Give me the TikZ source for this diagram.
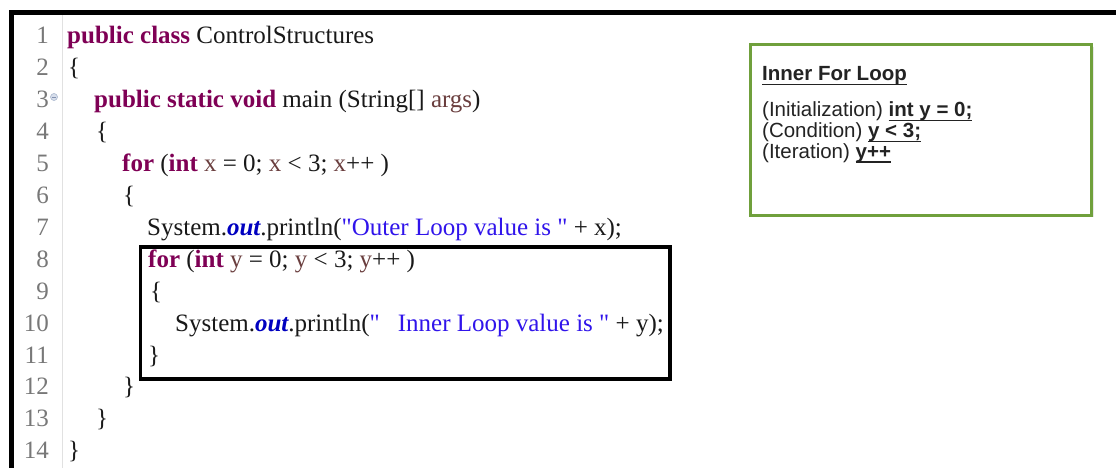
\documentclass[tikz,border=0pt]{standalone}
\usepackage{fontspec}
\setmainfont{Liberation Serif}
\newfontfamily\notefont{Liberation Sans}
\usetikzlibrary{shadows}

% editor syntax colours
\definecolor{kwcol}{RGB}{127,0,85}
\definecolor{fldcol}{RGB}{0,0,192}
\definecolor{strcol}{RGB}{48,20,235}
\definecolor{varcol}{RGB}{106,62,62}
\definecolor{lnumcol}{RGB}{120,120,120}
\definecolor{codecol}{RGB}{25,25,25}
\definecolor{notetext}{RGB}{35,35,35}
\definecolor{notegreen}{RGB}{112,160,60}
\definecolor{gutterline}{RGB}{225,225,225}
\definecolor{folddraw}{RGB}{160,175,200}
\definecolor{foldfill}{RGB}{215,222,235}
\definecolor{foldbar}{RGB}{130,145,175}

\newcommand\kwd[1]{\textbf{\textcolor{kwcol}{#1}}}
\newcommand\fld[1]{\textbf{\textit{\textcolor{fldcol}{#1}}}}
\newcommand\strlit[1]{\textcolor{strcol}{#1}}
\newcommand\varname[1]{\textcolor{varcol}{#1}}
% straight double quote, taken as a glyph so no quote mapping applies
\newcommand\dq{\XeTeXglyph\XeTeXglyphindex "quotedbl"\relax}
% underline drawn at a fixed depth below the baseline
\newcommand\ulbox[2][1.4pt]{\setbox0\hbox{#2}\rlap{\rule[-4.5pt]{\wd0}{#1}}\box0}

\tikzset{
  code/.style={anchor=base west, inner sep=0pt, text=codecol,
    font=\fontsize{25}{30}\selectfont},
  lnum/.style={anchor=base east, inner sep=0pt, text=lnumcol,
    font=\fontsize{25}{30}\selectfont},
  note/.style={anchor=base west, inner sep=0pt, text=notetext,
    font=\notefont\fontsize{20.5}{21}\selectfont},
  frame/.style={draw=black, line width=4.5pt},
  loopbox/.style={draw=black, line width=3.8pt, inner sep=0pt, anchor=north west},
  notebox/.style={draw=notegreen, line width=3pt, fill=white, inner sep=0pt,
    anchor=north west, drop shadow={opacity=0.18, shadow xshift=2pt, shadow yshift=-2pt}},
}

\begin{document}
\begin{tikzpicture}[x=1pt,y=-1pt]
\useasboundingbox[fill=white] (0,0) rectangle (1116,468);

% editor frame and gutter
\draw[gutterline, line width=0.8pt] (62,15) -- (62,468);
\draw[frame, line join=miter] (11.5,468) -- (11.5,12.5) -- (1116,12.5);

% line numbers
\node[lnum] (n1)  at (49,44)    {1};
\node[lnum] (n2)  at (49,75.9)  {2};
\node[lnum] (n3)  at (49,107.8) {3};
\node[lnum] (n4)  at (49,139.7) {4};
\node[lnum] (n5)  at (49,171.6) {5};
\node[lnum] (n6)  at (49,203.5) {6};
\node[lnum] (n7)  at (49,235.4) {7};
\node[lnum] (n8)  at (49,267.3) {8};
\node[lnum] (n9)  at (49,299.2) {9};
\node[lnum] (n10) at (49,331.1) {10};
\node[lnum] (n11) at (49,363)   {11};
\node[lnum] (n12) at (49,394.9) {12};
\node[lnum] (n13) at (49,426.8) {13};
\node[lnum] (n14) at (49,458.7) {14};

% fold marker beside line 3
\node[circle, draw=folddraw, fill=foldfill, line width=0.5pt,
  minimum size=7pt, inner sep=0pt] (fold) at (54,97) {};
\draw[foldbar, line width=0.7pt] (fold.west) ++(1.5,0) -- ++(4,0);

% source code
\node[code] (c1)  at (67,44)    {\kwd{public class} ControlStructures};
\node[code] (c2)  at (68,75.9)  {\{};
\node[code] (c3)  at (94,107.8) {\kwd{public static void} main (String[] \varname{args})};
\node[code] (c4)  at (96,139.7) {\{};
\node[code] (c5)  at (122,171.6) {\kwd{for} (\kwd{int} \varname{x} = 0; \varname{x} < 3; \varname{x}++ )};
\node[code] (c6)  at (123,203.5) {\{};
\node[code] (c7)  at (147,235.4) {System.\fld{out}.println(\strlit{\dq Outer Loop value is \dq} + x);};
\node[code] (c8)  at (148,267.3) {\kwd{for} (\kwd{int} \varname{y} = 0; \varname{y} < 3; \varname{y}++ )};
\node[code] (c9)  at (150,299.2) {\{};
\node[code] (c10) at (175,331.1) {System.\fld{out}.println(\strlit{\dq\hspace{18pt}Inner Loop value is \dq} + y);};
\node[code] (c11) at (148,363)   {\}};
\node[code] (c12) at (123,394.9) {\}};
\node[code] (c13) at (96,426.8)  {\}};
\node[code] (c14) at (68,458.7)  {\}};

% frame round the inner loop
\node[loopbox, minimum width=529.5pt, minimum height=132pt] (inner) at (138.5,245) {};

% note box
\node[notebox, minimum width=341pt, minimum height=170pt] (notebox) at (749,43.5) {};
\node[note] (title) at (762,81) {\ulbox[1.8pt]{\textbf{Inner For Loop}}};
\node[note] (init)  at (762,117) {(Initialization) \ulbox{\textbf{int y = 0;}}};
\node[note] (cond)  at (762,137.5) {(Condition) \ulbox{\textbf{y < 3;}}};
\node[note] (iter)  at (762,158) {(Iteration) \ulbox{\textbf{y++}}};
\end{tikzpicture}
\end{document}
